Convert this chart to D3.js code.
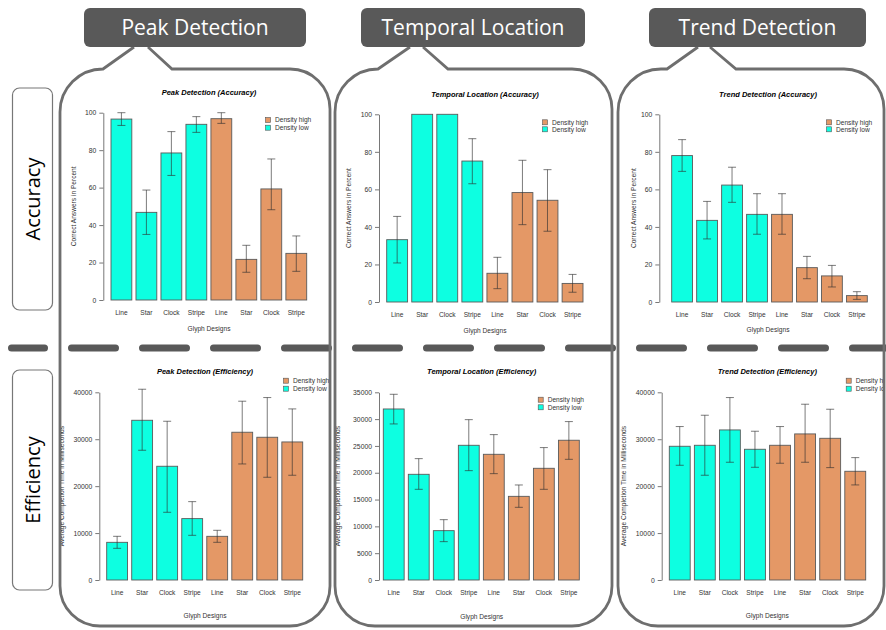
<!DOCTYPE html>
<meta charset="utf-8">
<style>
body { margin: 0; background: #fff; }
.axis text { font: 6.8px "Liberation Sans", Arial, sans-serif; fill: #333; }
.axis path, .axis line { stroke: #555; stroke-width: 0.8px; fill: none; }
.ctitle { font: italic bold 7.5px "Liberation Sans", Arial, sans-serif; fill: #000; }
.small { font: 6.6px "Liberation Sans", Arial, sans-serif; fill: #333; }
.head { font: 21px "Open Sans", sans-serif; fill: #fff; }
.row { font: 20px "Open Sans", sans-serif; fill: #000; }
</style>
<body>
<script src="https://d3js.org/d3.v7.min.js"></script>
<script>
// ---- data ----
var glyphs = ["Line", "Star", "Clock", "Stripe"];
var densities = ["Density low", "Density high"];   // first 4 bars low, last 4 high
var accTicks = [0, 20, 40, 60, 80, 100];
var effTicks = [0, 10000, 20000, 30000, 40000];
var tempEffTicks = [0, 5000, 10000, 15000, 20000, 25000, 30000, 35000];

var peakAccMean = [96.6, 46.8, 78.5, 93.8, 96.8, 21.7, 59.3, 24.9];
var peakAccLo   = [93.2, 35.0, 66.5, 89.5, 94.3, 14.8, 48.2, 15.3];
var peakAccHi   = [100, 58.7, 89.9, 97.9, 100, 29.2, 75.3, 34.2];

var tempAccMean = [33.2, 100, 100, 75.1, 15.3, 58.3, 54.2, 9.9];
var tempAccLo   = [20.8, 100, 100, 63.0, 7.1, 41.2, 37.7, 5.2];
var tempAccHi   = [45.6, 100, 100, 87.0, 23.8, 75.5, 70.5, 14.7];

var trendAccMean = [78.0, 43.5, 62.3, 46.7, 46.7, 18.3, 13.9, 3.4];
var trendAccLo   = [69.6, 33.6, 53.1, 36.1, 36.1, 12.4, 8.0, 1.4];
var trendAccHi   = [86.5, 53.6, 71.8, 57.7, 57.7, 24.3, 19.5, 5.5];

var peakEffMean = [8030, 34040, 24240, 13080, 9310, 31490, 30420, 29420];
var peakEffLo   = [6750, 27650, 14430, 9520, 8030, 24730, 21890, 22320];
var peakEffHi   = [9310, 40650, 33830, 16700, 10590, 38100, 38880, 36460];

var tempEffMean = [31890, 19710, 9200, 25120, 23440, 15600, 20830, 26060];
var tempEffLo   = [29100, 16910, 7150, 20390, 19830, 13550, 16910, 22500];
var tempEffHi   = [34630, 22630, 11250, 29900, 27110, 17720, 24690, 29540];

var trendEffMean = [28500, 28710, 31980, 27860, 28710, 31130, 30200, 23170];
var trendEffLo   = [24450, 22320, 25090, 24020, 24880, 25090, 23950, 20260];
var trendEffHi   = [32700, 35110, 38880, 31700, 32700, 37460, 36390, 26080];

var tasks = ["Peak Detection", "Temporal Location", "Trend Detection"];
var rows = ["Accuracy", "Efficiency"];

var colorLow = "#0dffe1", colorHigh = "#e49866";

// ---- layout ----
var svg = d3.select("body").append("svg")
    .attr("width", 886).attr("height", 630);

var panels = [
  {left: 60, right: 330, tl: [134, 103], tr: [148, 172], hx: 84, hw: 222},
  {left: 335, right: 612, tl: [410, 378], tr: [423, 448], hx: 361, hw: 224},
  {left: 618, right: 884, tl: [698, 667], tr: [710, 736], hx: 649, hw: 217}
];
var panelTop = 69, panelBottom = 626, headTop = 8, headBottom = 47;

var defs = svg.append("defs");
panels.forEach(function(p, i) {
  defs.append("clipPath").attr("id", "clip" + i)
    .append("rect").attr("x", p.left + 1).attr("y", 50)
    .attr("width", p.right - p.left - 2).attr("height", 580);
});

// row labels
[[88, 310], [370, 590]].forEach(function(r, i) {
  svg.append("rect").attr("x", 12.5).attr("y", r[0]).attr("width", 40).attr("height", r[1] - r[0])
    .attr("rx", 7).attr("fill", "#fff").attr("stroke", "#777").attr("stroke-width", 1.2);
  svg.append("text").attr("class", "row")
    .attr("transform", "translate(40," + ((r[0] + r[1]) / 2) + ") rotate(-90)")
    .attr("text-anchor", "middle").text(rows[i]);
});

// dashed separator
svg.append("path").attr("d", "M11.5,348H44.5")
  .attr("stroke", "#595959").attr("stroke-width", 7).attr("stroke-linecap", "round");
svg.append("path").attr("d", "M71.5,348H886")
  .attr("stroke", "#595959").attr("stroke-width", 7).attr("stroke-linecap", "round")
  .attr("stroke-dasharray", "44 27");

// speech-bubble panels and header boxes
panels.forEach(function(p, i) {
  var r = 43, rb = 40;
  var d = "M" + p.tl[0] + "," + headBottom +
    "L" + p.tl[1] + "," + panelTop +
    "H" + (p.left + r) +
    "A" + r + "," + r + " 0 0 0 " + p.left + "," + (panelTop + r) +
    "V" + (panelBottom - rb) +
    "A" + rb + "," + rb + " 0 0 0 " + (p.left + rb) + "," + panelBottom +
    "H" + (p.right - rb) +
    "A" + rb + "," + rb + " 0 0 0 " + p.right + "," + (panelBottom - rb) +
    "V" + (panelTop + rb) +
    "A" + rb + "," + rb + " 0 0 0 " + (p.right - rb) + "," + panelTop +
    "H" + p.tr[1] +
    "L" + p.tr[0] + "," + headBottom;
  svg.append("path").attr("d", d).attr("fill", "none")
    .attr("stroke", "#6e6e6e").attr("stroke-width", 2.8);
  svg.append("rect").attr("x", p.hx).attr("y", headTop).attr("width", p.hw)
    .attr("height", headBottom - headTop).attr("rx", 6).attr("fill", "#595959");
  svg.append("text").attr("class", "head")
    .attr("x", p.hx + p.hw / 2).attr("y", 28).attr("dy", "0.35em")
    .attr("text-anchor", "middle").text(tasks[i]);
});

// chart layouts (pixel placement only)
var charts = [
  {panel: 0, row: 0, mean: peakAccMean, lo: peakAccLo, hi: peakAccHi, ticks: accTicks,
   axisX: 103.3, y0: 300, y1: 112.7, bx0: 111, bx1: 306.7, titleX: 209, titleY: 95,
   labY: 315, xtY: 330.5, ytX: 75.7, legX: 268, legY: 120, legGap: 7.7},
  {panel: 1, row: 0, mean: tempAccMean, lo: tempAccLo, hi: tempAccHi, ticks: accTicks,
   axisX: 379, y0: 302, y1: 114.3, bx0: 386.7, bx1: 583, titleX: 485, titleY: 96.5,
   labY: 316.8, xtY: 332.5, ytX: 351, legX: 545, legY: 122.3, legGap: 7},
  {panel: 2, row: 0, mean: trendAccMean, lo: trendAccLo, hi: trendAccHi, ticks: accTicks,
   axisX: 659.3, y0: 302, y1: 114.3, bx0: 671.7, bx1: 867.3, titleX: 768, titleY: 96.5,
   labY: 316.8, xtY: 331.5, ytX: 636, legX: 829, legY: 122.3, legGap: 7},
  {panel: 0, row: 1, mean: peakEffMean, lo: peakEffLo, hi: peakEffHi, ticks: effTicks,
   axisX: 99.3, y0: 580, y1: 392.3, bx0: 106.7, bx1: 302.7, titleX: 205, titleY: 374.2,
   labY: 594.8, xtY: 618.2, ytX: 64.3, legX: 286, legY: 380.7, legGap: 8},
  {panel: 1, row: 1, mean: tempEffMean, lo: tempEffLo, hi: tempEffHi, ticks: tempEffTicks,
   axisX: 379, y0: 580, y1: 392.3, bx0: 383.3, bx1: 579.3, titleX: 481.7, titleY: 374.2,
   labY: 594.5, xtY: 618.5, ytX: 340, legX: 540.7, legY: 399.7, legGap: 7.6},
  {panel: 2, row: 1, mean: trendEffMean, lo: trendEffLo, hi: trendEffHi, ticks: effTicks,
   axisX: 661.7, y0: 580, y1: 392.3, bx0: 669.3, bx1: 865.7, titleX: 767.3, titleY: 374.2,
   labY: 594.5, xtY: 618.2, ytX: 626, legX: 848.7, legY: 380.7, legGap: 8}
];

var barKeys = [];
densities.forEach(function(dn) { glyphs.forEach(function(gl) { barKeys.push(dn + "|" + gl); }); });

charts.forEach(function(c) {
  var g = svg.append("g").attr("clip-path", "url(#clip" + c.panel + ")");
  var x = d3.scaleBand().domain(barKeys).range([c.bx0, c.bx1])
    .paddingInner(0.2 / 1.2).paddingOuter(0);
  var ymax = c.ticks[c.ticks.length - 1];
  var y = d3.scaleLinear().domain([0, ymax]).range([c.y0, c.y1]);

  var data = barKeys.map(function(k, i) {
    return {key: k, glyph: k.split("|")[1], dens: k.split("|")[0],
            mean: c.mean[i], lo: c.lo[i], hi: c.hi[i]};
  });

  // y axis (R style: line spans ticks only)
  g.append("g").attr("class", "axis")
    .attr("transform", "translate(" + c.axisX + ",0)")
    .call(d3.axisLeft(y).tickValues(c.ticks).tickSize(4).tickPadding(3).tickSizeOuter(0)
      .tickFormat(d3.format("d")));

  // bars
  g.selectAll(".bar").data(data).enter().append("rect")
    .attr("x", function(d) { return x(d.key); })
    .attr("width", x.bandwidth())
    .attr("y", function(d) { return y(d.mean); })
    .attr("height", function(d) { return y(0) - y(d.mean); })
    .attr("fill", function(d) { return d.dens === densities[0] ? colorLow : colorHigh; })
    .attr("stroke", "#5a5a5a").attr("stroke-width", 0.9);

  // error bars
  var eb = g.selectAll(".err").data(data.filter(function(d) { return d.hi > d.lo; }))
    .enter().append("g").attr("stroke", "#2e2e2e").attr("stroke-opacity", 0.7).attr("stroke-width", 0.9);
  eb.append("line")
    .attr("x1", function(d) { return x(d.key) + x.bandwidth() / 2; })
    .attr("x2", function(d) { return x(d.key) + x.bandwidth() / 2; })
    .attr("y1", function(d) { return y(d.lo); })
    .attr("y2", function(d) { return y(d.hi); });
  ["lo", "hi"].forEach(function(f) {
    eb.append("line")
      .attr("x1", function(d) { return x(d.key) + x.bandwidth() / 2 - 4; })
      .attr("x2", function(d) { return x(d.key) + x.bandwidth() / 2 + 4; })
      .attr("y1", function(d) { return y(d[f]); })
      .attr("y2", function(d) { return y(d[f]); });
  });

  // x labels
  g.selectAll(".xl").data(data).enter().append("text").attr("class", "small")
    .attr("x", function(d) { return x(d.key) + x.bandwidth() / 2; })
    .attr("y", c.labY).attr("text-anchor", "middle").text(function(d) { return d.glyph; });

  g.append("text").attr("class", "small").attr("x", c.titleX).attr("y", c.xtY)
    .attr("text-anchor", "middle").text("Glyph Designs");

  g.append("text").attr("class", "ctitle").attr("x", c.titleX).attr("y", c.titleY)
    .attr("text-anchor", "middle").text(tasks[c.panel] + " (" + rows[c.row] + ")");

  g.append("text").attr("class", "small")
    .attr("transform", "translate(" + c.ytX + "," + ((c.y0 + c.y1) / 2) + ") rotate(-90)")
    .attr("text-anchor", "middle")
    .text(c.row === 0 ? "Correct Answers in Percent" : "Average Completion Time in Milliseconds");

  // legend
  [densities[1], densities[0]].forEach(function(dn, i) {
    var ly = c.legY + i * c.legGap;
    g.append("rect").attr("x", c.legX - 2.5).attr("y", ly - 2.5).attr("width", 5).attr("height", 5)
      .attr("fill", dn === densities[0] ? colorLow : colorHigh).attr("stroke", "#555").attr("stroke-width", 0.6);
    g.append("text").attr("class", "small").attr("x", c.legX + 7).attr("y", ly).attr("dy", "0.35em")
      .text(dn);
  });
});
</script>
</body>
